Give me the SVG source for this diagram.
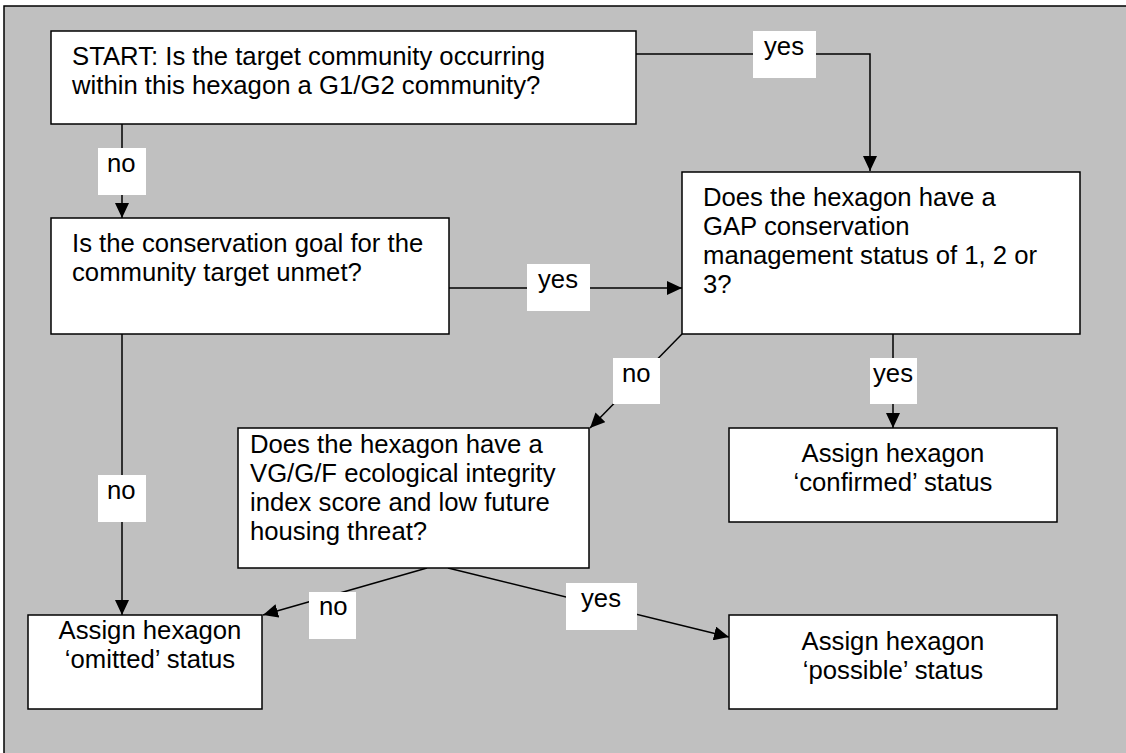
<svg xmlns="http://www.w3.org/2000/svg" width="1126" height="753" viewBox="0 0 1126 753">
  <style>
    .box { fill: #ffffff; stroke: #000000; stroke-width: 1.5; }
    .lbl { fill: #ffffff; stroke: none; }
    .edge { fill: none; stroke: #000000; stroke-width: 1.5; }
    text { font-family: "Liberation Sans", Arial, sans-serif; font-size: 25.7px; fill: #000000; }
    .mid { text-anchor: middle; }
  </style>
  <defs>
    <marker id="arrow" markerUnits="userSpaceOnUse" markerWidth="16" markerHeight="14" refX="15" refY="7" orient="auto">
      <path d="M0,0 L15,7 L0,14 Z" fill="#000000"/>
    </marker>
  </defs>

  <!-- background panel -->
  <rect x="4" y="6" width="1140" height="770" fill="#c0c0c0" stroke="#000000" stroke-width="1.5"/>

  <!-- connectors -->
  <g id="connectors">
    <path class="edge" d="M636,54 H870 V171" marker-end="url(#arrow)"/>
    <path class="edge" d="M122,124 V218" marker-end="url(#arrow)"/>
    <path class="edge" d="M122,334 V615" marker-end="url(#arrow)"/>
    <path class="edge" d="M449,288 H682" marker-end="url(#arrow)"/>
    <path class="edge" d="M682,334 L590,428" marker-end="url(#arrow)"/>
    <path class="edge" d="M893,334 V428" marker-end="url(#arrow)"/>
    <path class="edge" d="M427,568 L263,615" marker-end="url(#arrow)"/>
    <path class="edge" d="M448,568 L729,637" marker-end="url(#arrow)"/>

    <!-- connector labels -->
    <g id="lbl-start-yes"><rect class="lbl" x="753" y="31" width="63" height="47"/><text x="764" y="55">yes</text></g>
    <g id="lbl-start-no"><rect class="lbl" x="98" y="148" width="48" height="47"/><text x="107" y="172">no</text></g>
    <g id="lbl-goal-yes"><rect class="lbl" x="527" y="264" width="63" height="47"/><text x="538" y="288">yes</text></g>
    <g id="lbl-goal-no"><rect class="lbl" x="98" y="475" width="48" height="47"/><text x="107" y="499">no</text></g>
    <g id="lbl-gap-no"><rect class="lbl" x="613" y="358" width="47" height="46"/><text x="622" y="382">no</text></g>
    <g id="lbl-gap-yes"><rect class="lbl" x="870" y="358" width="47" height="46"/><text x="873" y="382">yes</text></g>
    <g id="lbl-eco-no"><rect class="lbl" x="309" y="592" width="47" height="47"/><text x="319" y="615">no</text></g>
    <g id="lbl-eco-yes"><rect class="lbl" x="566" y="583" width="71" height="47"/><text x="581" y="607">yes</text></g>
  </g>

  <!-- nodes -->
  <g id="start">
    <rect class="box" x="51" y="31" width="585" height="93"/>
    <text x="72" y="65">START: Is the target community occurring</text>
    <text x="72" y="94">within this hexagon a G1/G2 community?</text>
  </g>

  <g id="goal">
    <rect class="box" x="51" y="218" width="398" height="116"/>
    <text x="72" y="252">Is the conservation goal for the</text>
    <text x="72" y="281">community target unmet?</text>
  </g>

  <g id="gap">
    <rect class="box" x="682" y="172" width="398" height="162"/>
    <text x="703" y="206">Does the hexagon have a</text>
    <text x="703" y="235">GAP conservation</text>
    <text x="703" y="264">management status of 1, 2 or</text>
    <text x="703" y="293">3?</text>
  </g>

  <g id="integrity">
    <rect class="box" x="238" y="428" width="351" height="140"/>
    <text x="250" y="453">Does the hexagon have a</text>
    <text x="250" y="482">VG/G/F ecological integrity</text>
    <text x="250" y="511">index score and low future</text>
    <text x="250" y="540">housing threat?</text>
  </g>

  <g id="confirmed">
    <rect class="box" x="729" y="428" width="328" height="94"/>
    <text class="mid" x="893" y="462">Assign hexagon</text>
    <text class="mid" x="893" y="491">‘confirmed’ status</text>
  </g>

  <g id="omitted">
    <rect class="box" x="28" y="615" width="234" height="94"/>
    <text class="mid" x="150" y="639">Assign hexagon</text>
    <text class="mid" x="150" y="668">‘omitted’ status</text>
  </g>

  <g id="possible">
    <rect class="box" x="729" y="615" width="328" height="94"/>
    <text class="mid" x="893" y="650">Assign hexagon</text>
    <text class="mid" x="893" y="679">‘possible’ status</text>
  </g>
</svg>
